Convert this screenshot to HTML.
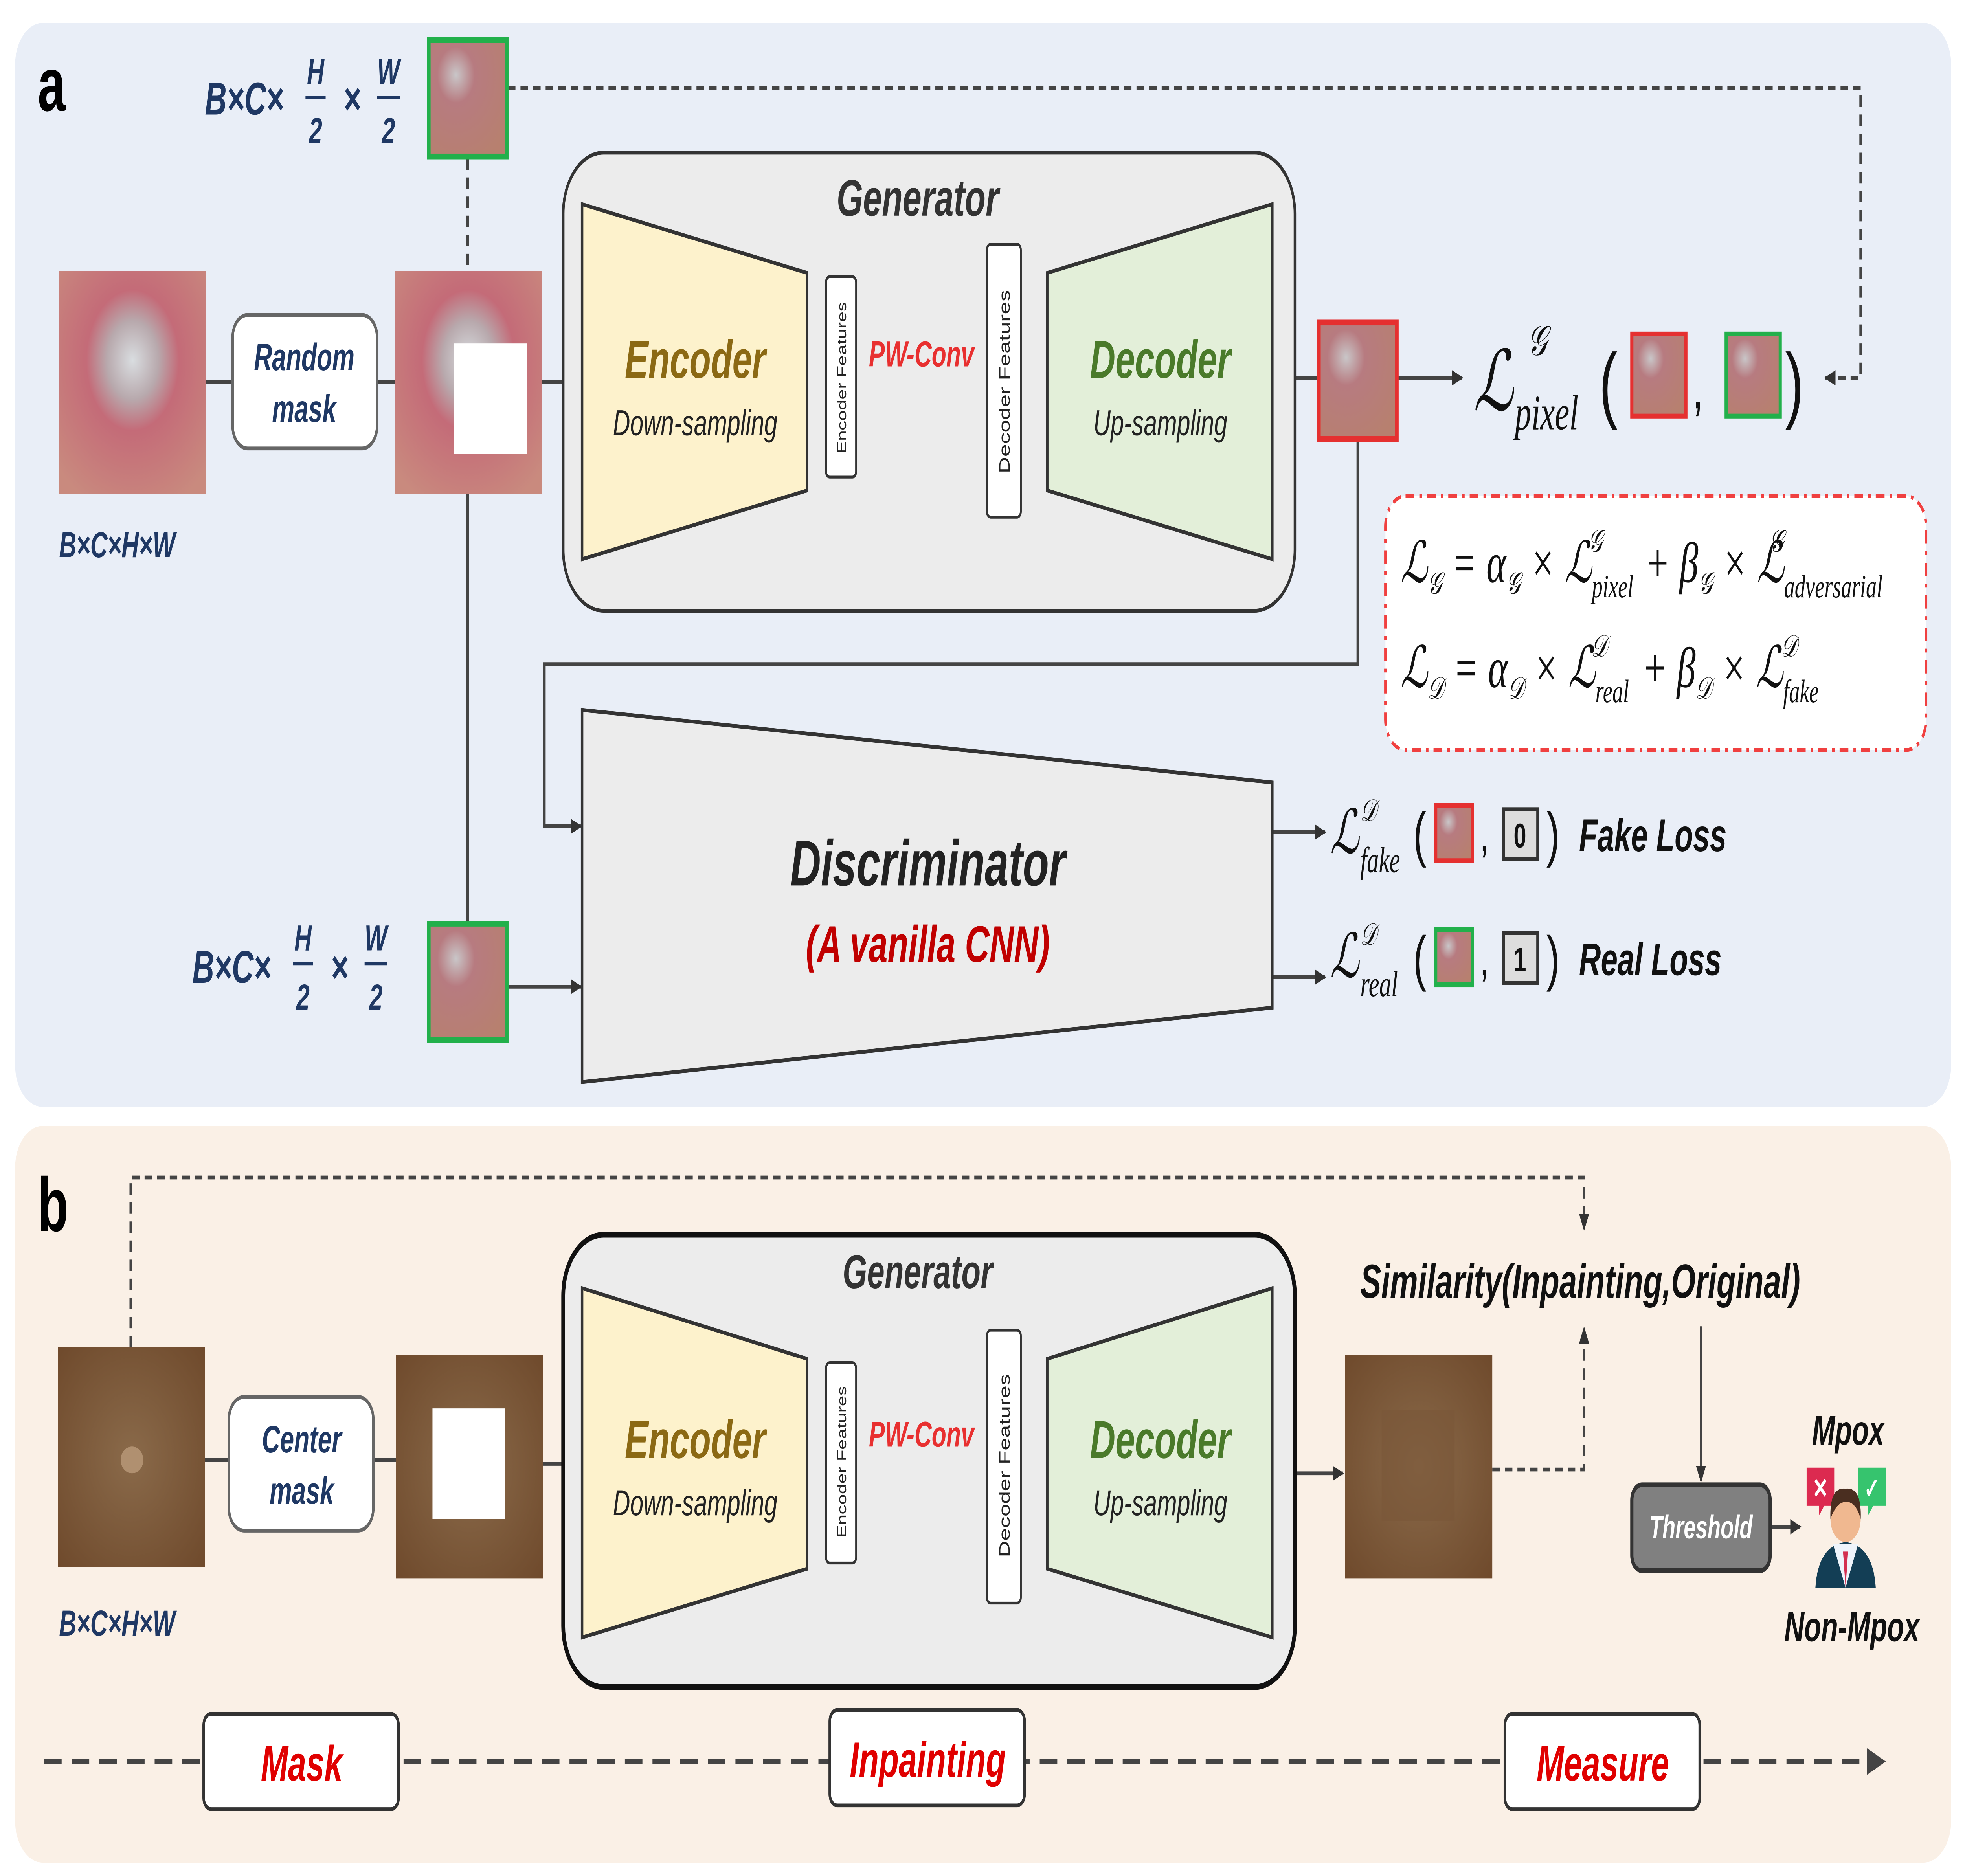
<!DOCTYPE html>
<html><head><meta charset="utf-8">
<style>
html,body{margin:0;padding:0;background:#fff;width:100%;height:100%;overflow:hidden;}
svg{display:block;width:100vw;height:100vh;}
text{font-family:"Liberation Sans",sans-serif;}
.t{font-weight:bold;font-style:italic;fill:#1f3864;}
.m{font-family:"Liberation Serif",serif;font-style:italic;fill:#111;}
</style></head>
<body>
<svg viewBox="0 0 1563 983" preserveAspectRatio="none" xmlns="http://www.w3.org/2000/svg">
<defs>
<radialGradient id="skinA" cx="0.5" cy="0.4" r="0.7">
<stop offset="0" stop-color="#d9dde0"/><stop offset="0.25" stop-color="#b8a9ad"/><stop offset="0.45" stop-color="#c46b78"/><stop offset="1" stop-color="#c98a7e"/></radialGradient>
<radialGradient id="skinA2" cx="0.35" cy="0.3" r="0.8">
<stop offset="0" stop-color="#c9c6c8"/><stop offset="0.3" stop-color="#b77b80"/><stop offset="1" stop-color="#b7806f"/></radialGradient>
<radialGradient id="skinB" cx="0.5" cy="0.5" r="0.7">
<stop offset="0" stop-color="#8a6a4a"/><stop offset="1" stop-color="#6f4a2c"/></radialGradient>
<marker id="ar" markerWidth="10" markerHeight="10" refX="8" refY="5" orient="auto" markerUnits="userSpaceOnUse"><path d="M0,1 L9,5 L0,9 Z" fill="#333"/></marker>
</defs>

<rect x="12" y="12" width="1540" height="568" rx="22" fill="#e9eef7"/>
<rect x="12" y="590" width="1540" height="386" rx="22" fill="#faf0e6"/>
<text x="30" y="58" font-family="Liberation Serif" font-weight="bold" font-size="40" fill="#000">a</text>
<text x="30" y="645" font-family="Liberation Serif" font-weight="bold" font-size="40" fill="#000">b</text>

<g stroke="#444" stroke-width="2" fill="none">
<line x1="164" y1="200" x2="185" y2="200"/>
<line x1="300" y1="200" x2="314" y2="200"/>
<line x1="431" y1="200" x2="463" y2="200"/>
<line x1="642" y1="198" x2="657" y2="198"/>
<line x1="681" y1="198" x2="785" y2="198"/>
<line x1="812" y1="198" x2="833" y2="198"/>
<line x1="1012" y1="198" x2="1048" y2="198"/>
<line x1="1112" y1="198" x2="1163" y2="198" marker-end="url(#ar)"/>
<line x1="372" y1="259" x2="372" y2="483"/>
<line x1="404" y1="517" x2="462" y2="517" marker-end="url(#ar)"/>
<polyline points="1080,230 1080,348 433,348 433,433 462,433" marker-end="url(#ar)"/>
<line x1="1012" y1="436" x2="1054" y2="436" marker-end="url(#ar)"/>
<line x1="1012" y1="512" x2="1054" y2="512" marker-end="url(#ar)"/>
</g>
<g stroke="#444" stroke-width="2" fill="none" stroke-dasharray="6,4">
<line x1="372" y1="83" x2="372" y2="142"/>
<polyline points="404,46 1480,46 1480,198 1452,198" marker-end="url(#ar)"/>
</g>

<rect x="47" y="142" width="117" height="117" fill="url(#skinA)"/>
<rect x="185" y="165" width="115" height="70" rx="12" fill="#fff" stroke="#666" stroke-width="2"/>
<text class="t" x="242" y="194" font-size="20" text-anchor="middle">Random</text>
<text class="t" x="242" y="221" font-size="20" text-anchor="middle">mask</text>
<rect x="314" y="142" width="117" height="117" fill="url(#skinA)"/>
<rect x="361" y="180" width="58" height="58" fill="#fff"/>
<text class="t" x="47" y="292" font-size="19">B×C×H×W</text>

<rect x="341" y="21" width="62" height="61" fill="url(#skinA2)" stroke="#22b04b" stroke-width="3"/>
<text class="t" x="163" y="60" font-size="24">B×C×</text>
<text class="t" x="251" y="44" font-size="19" text-anchor="middle" font-family="Liberation Serif">H</text>
<line x1="243" y1="51" x2="259" y2="51" stroke="#1f3864" stroke-width="1.5"/>
<text class="t" x="251" y="75" font-size="19" text-anchor="middle" font-family="Liberation Serif">2</text>
<text class="t" x="280" y="60" font-size="24" text-anchor="middle">×</text>
<text class="t" x="309" y="44" font-size="19" text-anchor="middle" font-family="Liberation Serif">W</text>
<line x1="300" y1="51" x2="318" y2="51" stroke="#1f3864" stroke-width="1.5"/>
<text class="t" x="309" y="75" font-size="19" text-anchor="middle" font-family="Liberation Serif">2</text>

<rect x="448" y="80" width="582" height="240" rx="32" fill="#ececec" stroke="#333" stroke-width="2"/>
<text x="730" y="113" font-size="27" font-weight="bold" font-style="italic" text-anchor="middle" fill="#333">Generator</text>
<polygon points="463,107 642,143 642,257 463,293" fill="#fdf2cc" stroke="#333" stroke-width="2"/>
<text x="553" y="198" font-size="28" font-weight="bold" font-style="italic" text-anchor="middle" fill="#8b6914">Encoder</text>
<text x="553" y="228" font-size="19" font-style="italic" text-anchor="middle" fill="#222">Down-sampling</text>
<rect x="657" y="145" width="24" height="105" rx="3" fill="#fff" stroke="#333" stroke-width="1.5"/>
<text transform="translate(673,198) rotate(-90)" font-size="10" text-anchor="middle" fill="#222">Encoder Features</text>
<text x="733" y="192" font-size="19" font-weight="bold" font-style="italic" text-anchor="middle" fill="#e83030">PW-Conv</text>
<rect x="785" y="128" width="27" height="143" rx="3" fill="#fff" stroke="#333" stroke-width="1.5"/>
<text transform="translate(803,200) rotate(-90)" font-size="12" text-anchor="middle" fill="#222">Decoder Features</text>
<polygon points="833,143 1012,107 1012,293 833,257" fill="#e3efd9" stroke="#333" stroke-width="2"/>
<text x="923" y="198" font-size="28" font-weight="bold" font-style="italic" text-anchor="middle" fill="#4a7a2a">Decoder</text>
<text x="923" y="228" font-size="19" font-style="italic" text-anchor="middle" fill="#222">Up-sampling</text>

<rect x="1049" y="169" width="62" height="61" fill="url(#skinA2)" stroke="#e53030" stroke-width="3"/>

<text class="m" x="1172" y="215" font-size="44">ℒ</text>
<text class="m" x="1215" y="186" font-size="22">𝒢</text>
<text class="m" x="1205" y="225" font-size="26">pixel</text>
<text x="1272" y="216" font-size="44" font-family="Liberation Serif" fill="#111">(</text>
<rect x="1298" y="175" width="43" height="43" fill="url(#skinA2)" stroke="#e53030" stroke-width="2.5"/>
<text x="1346" y="214" font-size="32" font-family="Liberation Serif" fill="#111">,</text>
<rect x="1373" y="175" width="43" height="43" fill="url(#skinA2)" stroke="#22b04b" stroke-width="2.5"/>
<text x="1420" y="216" font-size="44" font-family="Liberation Serif" fill="#111">)</text>

<rect x="1102" y="260" width="430" height="133" rx="16" fill="#fff" stroke="#f04040" stroke-width="2" stroke-dasharray="7,4,2,4"/>
<text class="m" x="1114" y="305" font-size="30">ℒ<tspan font-size="16" dy="6">𝒢</tspan><tspan dy="-6"> = α</tspan><tspan font-size="16" dy="6">𝒢</tspan><tspan dy="-6"> × ℒ</tspan><tspan font-size="17" dy="8">pixel</tspan><tspan font-size="16" dx="-36" dy="-24">𝒢</tspan><tspan dx="26" dy="16"> + β</tspan><tspan font-size="16" dy="6">𝒢</tspan><tspan dy="-6"> × ℒ</tspan><tspan font-size="17" dy="8">adversarial</tspan><tspan font-size="16" dx="-90" dy="-24">𝒢</tspan></text>
<text class="m" x="1114" y="360" font-size="30">ℒ<tspan font-size="16" dy="6">𝒟</tspan><tspan dy="-6"> = α</tspan><tspan font-size="16" dy="6">𝒟</tspan><tspan dy="-6"> × ℒ</tspan><tspan font-size="17" dy="8">real</tspan><tspan font-size="16" dx="-30" dy="-24">𝒟</tspan><tspan dx="20" dy="16"> + β</tspan><tspan font-size="16" dy="6">𝒟</tspan><tspan dy="-6"> × ℒ</tspan><tspan font-size="17" dy="8">fake</tspan><tspan font-size="16" dx="-30" dy="-24">𝒟</tspan></text>

<polygon points="463,372 1012,410 1012,528 463,567" fill="#ececec" stroke="#333" stroke-width="2"/>
<text x="738" y="464" font-size="34" font-weight="bold" font-style="italic" text-anchor="middle" fill="#222">Discriminator</text>
<text x="738" y="504" font-size="27" font-weight="bold" font-style="italic" text-anchor="middle" fill="#c00000">(A vanilla CNN)</text>

<rect x="341" y="484" width="62" height="61" fill="url(#skinA2)" stroke="#22b04b" stroke-width="3"/>
<text class="t" x="153" y="515" font-size="24">B×C×</text>
<text class="t" x="241" y="498" font-size="19" text-anchor="middle" font-family="Liberation Serif">H</text>
<line x1="233" y1="505" x2="249" y2="505" stroke="#1f3864" stroke-width="1.5"/>
<text class="t" x="241" y="529" font-size="19" text-anchor="middle" font-family="Liberation Serif">2</text>
<text class="t" x="270" y="515" font-size="24" text-anchor="middle">×</text>
<text class="t" x="299" y="498" font-size="19" text-anchor="middle" font-family="Liberation Serif">W</text>
<line x1="290" y1="505" x2="308" y2="505" stroke="#1f3864" stroke-width="1.5"/>
<text class="t" x="299" y="529" font-size="19" text-anchor="middle" font-family="Liberation Serif">2</text>

<text class="m" x="1058" y="447" font-size="32">ℒ</text>
<text class="m" x="1082" y="430" font-size="16">𝒟</text>
<text class="m" x="1082" y="457" font-size="19">fake</text>
<text x="1124" y="448" font-size="32" font-family="Liberation Serif" fill="#111">(</text>
<rect x="1142" y="422" width="29" height="29" fill="url(#skinA2)" stroke="#e53030" stroke-width="2.5"/>
<text x="1177" y="446" font-size="26" font-family="Liberation Serif" fill="#111">,</text>
<rect x="1196" y="424" width="27" height="26" fill="#ddd" stroke="#333" stroke-width="2"/>
<text x="1209" y="444" font-size="18" font-weight="bold" text-anchor="middle" fill="#111">0</text>
<text x="1230" y="448" font-size="32" font-family="Liberation Serif" fill="#111">)</text>
<text x="1256" y="446" font-size="24" font-weight="bold" font-style="italic" fill="#111">Fake Loss</text>

<text class="m" x="1058" y="512" font-size="32">ℒ</text>
<text class="m" x="1082" y="495" font-size="16">𝒟</text>
<text class="m" x="1082" y="522" font-size="19">real</text>
<text x="1124" y="513" font-size="32" font-family="Liberation Serif" fill="#111">(</text>
<rect x="1142" y="487" width="29" height="29" fill="url(#skinA2)" stroke="#22b04b" stroke-width="2.5"/>
<text x="1177" y="511" font-size="26" font-family="Liberation Serif" fill="#111">,</text>
<rect x="1196" y="489" width="27" height="26" fill="#ddd" stroke="#333" stroke-width="2"/>
<text x="1209" y="509" font-size="18" font-weight="bold" text-anchor="middle" fill="#111">1</text>
<text x="1230" y="513" font-size="32" font-family="Liberation Serif" fill="#111">)</text>
<text x="1256" y="511" font-size="24" font-weight="bold" font-style="italic" fill="#111">Real Loss</text>

<g stroke="#444" stroke-width="2" fill="none">
<line x1="163" y1="765" x2="182" y2="765"/>
<line x1="297" y1="765" x2="315" y2="765"/>
<line x1="432" y1="767" x2="463" y2="767"/>
<line x1="642" y1="767" x2="657" y2="767"/>
<line x1="681" y1="767" x2="785" y2="767"/>
<line x1="812" y1="767" x2="833" y2="767"/>
<line x1="1012" y1="772" x2="1068" y2="772" marker-end="url(#ar)"/>
<line x1="1353" y1="695" x2="1353" y2="776" marker-end="url(#ar)"/>
<line x1="1408" y1="800" x2="1432" y2="800" marker-end="url(#ar)"/>
</g>
<g stroke="#444" stroke-width="2" fill="none" stroke-dasharray="6,4">
<polyline points="104,706 104,617 1260,617 1260,644" marker-end="url(#ar)"/>
<polyline points="1187,770 1260,770 1260,696" marker-end="url(#ar)"/>
</g>
<g stroke="#444" stroke-width="3" fill="none" stroke-dasharray="14,8">
<line x1="35" y1="923" x2="1492" y2="923"/>
</g>
<path d="M1485,916 L1500,923 L1485,930 Z" fill="#444"/>

<rect x="46" y="706" width="117" height="115" fill="url(#skinB)"/>
<ellipse cx="105" cy="765" rx="9" ry="7" fill="#b09070"/>
<rect x="182" y="732" width="115" height="70" rx="12" fill="#fff" stroke="#666" stroke-width="2"/>
<text class="t" x="240" y="761" font-size="20" text-anchor="middle">Center</text>
<text class="t" x="240" y="788" font-size="20" text-anchor="middle">mask</text>
<rect x="315" y="710" width="117" height="117" fill="url(#skinB)"/>
<rect x="344" y="738" width="58" height="58" fill="#fff"/>
<text class="t" x="47" y="857" font-size="19">B×C×H×W</text>

<rect x="448" y="647" width="582" height="237" rx="32" fill="#ececec" stroke="#111" stroke-width="3"/>
<text x="730" y="675" font-size="25" font-weight="bold" font-style="italic" text-anchor="middle" fill="#333">Generator</text>
<polygon points="463,675 642,712 642,822 463,858" fill="#fdf2cc" stroke="#333" stroke-width="2"/>
<text x="553" y="764" font-size="28" font-weight="bold" font-style="italic" text-anchor="middle" fill="#8b6914">Encoder</text>
<text x="553" y="794" font-size="19" font-style="italic" text-anchor="middle" fill="#222">Down-sampling</text>
<rect x="657" y="714" width="24" height="105" rx="3" fill="#fff" stroke="#333" stroke-width="1.5"/>
<text transform="translate(673,766) rotate(-90)" font-size="10" text-anchor="middle" fill="#222">Encoder Features</text>
<text x="733" y="758" font-size="19" font-weight="bold" font-style="italic" text-anchor="middle" fill="#e83030">PW-Conv</text>
<rect x="785" y="697" width="27" height="143" rx="3" fill="#fff" stroke="#333" stroke-width="1.5"/>
<text transform="translate(803,768) rotate(-90)" font-size="12" text-anchor="middle" fill="#222">Decoder Features</text>
<polygon points="833,712 1012,675 1012,858 833,822" fill="#e3efd9" stroke="#333" stroke-width="2"/>
<text x="923" y="764" font-size="28" font-weight="bold" font-style="italic" text-anchor="middle" fill="#4a7a2a">Decoder</text>
<text x="923" y="794" font-size="19" font-style="italic" text-anchor="middle" fill="#222">Up-sampling</text>

<rect x="1070" y="710" width="117" height="117" fill="url(#skinB)"/>
<rect x="1099" y="739" width="58" height="58" fill="#7a5638" opacity="0.6"/>

<text x="1257" y="680" font-size="25" font-weight="bold" font-style="italic" text-anchor="middle" font-family="Liberation Serif" fill="#111">Similarity(Inpainting,Original)</text>

<rect x="1298" y="778" width="110" height="45" rx="8" fill="#808080" stroke="#333" stroke-width="2.5"/>
<text x="1353" y="806" font-size="17" font-weight="bold" font-style="italic" text-anchor="middle" fill="#fff">Threshold</text>

<path d="M1437,769 h22 v20 h-8 l-4,5 v-5 h-10 z" fill="#dc2a50"/>
<text x="1448" y="785" font-size="15" font-weight="bold" text-anchor="middle" fill="#fff">✕</text>
<path d="M1478,769 h22 v20 h-10 l-4,5 v-5 h-8 z" fill="#36c46e"/>
<text x="1489" y="785" font-size="15" font-weight="bold" text-anchor="middle" fill="#fff">✓</text>
<path d="M1444,832 Q1446,810 1468,808 Q1490,810 1492,832 Z" fill="#133e55"/>
<path d="M1458,809 L1468,832 L1478,809 Z" fill="#eef4fb"/>
<path d="M1466,813 L1468,832 L1470,813 Z" fill="#d33050"/>
<circle cx="1468" cy="796" r="12" fill="#f0b890"/>
<path d="M1456,796 Q1455,779 1468,780 Q1481,779 1480,796 Q1476,786 1467,787 Q1460,788 1456,796 Z" fill="#4a2e20"/>
<text x="1470" y="757" font-size="22" font-weight="bold" font-style="italic" text-anchor="middle" fill="#111">Mpox</text>
<text x="1473" y="860" font-size="22" font-weight="bold" font-style="italic" text-anchor="middle" fill="#111">Non-Mpox</text>

<rect x="162" y="898" width="155" height="50" rx="6" fill="#fff" stroke="#333" stroke-width="2"/>
<text x="240" y="933" font-size="26" font-weight="bold" font-style="italic" text-anchor="middle" fill="#e00000">Mask</text>
<rect x="660" y="896" width="155" height="50" rx="6" fill="#fff" stroke="#333" stroke-width="2"/>
<text x="738" y="931" font-size="26" font-weight="bold" font-style="italic" text-anchor="middle" fill="#e00000">Inpainting</text>
<rect x="1197" y="898" width="155" height="50" rx="6" fill="#fff" stroke="#333" stroke-width="2"/>
<text x="1275" y="933" font-size="26" font-weight="bold" font-style="italic" text-anchor="middle" fill="#e00000">Measure</text>
</svg>
</body></html>
